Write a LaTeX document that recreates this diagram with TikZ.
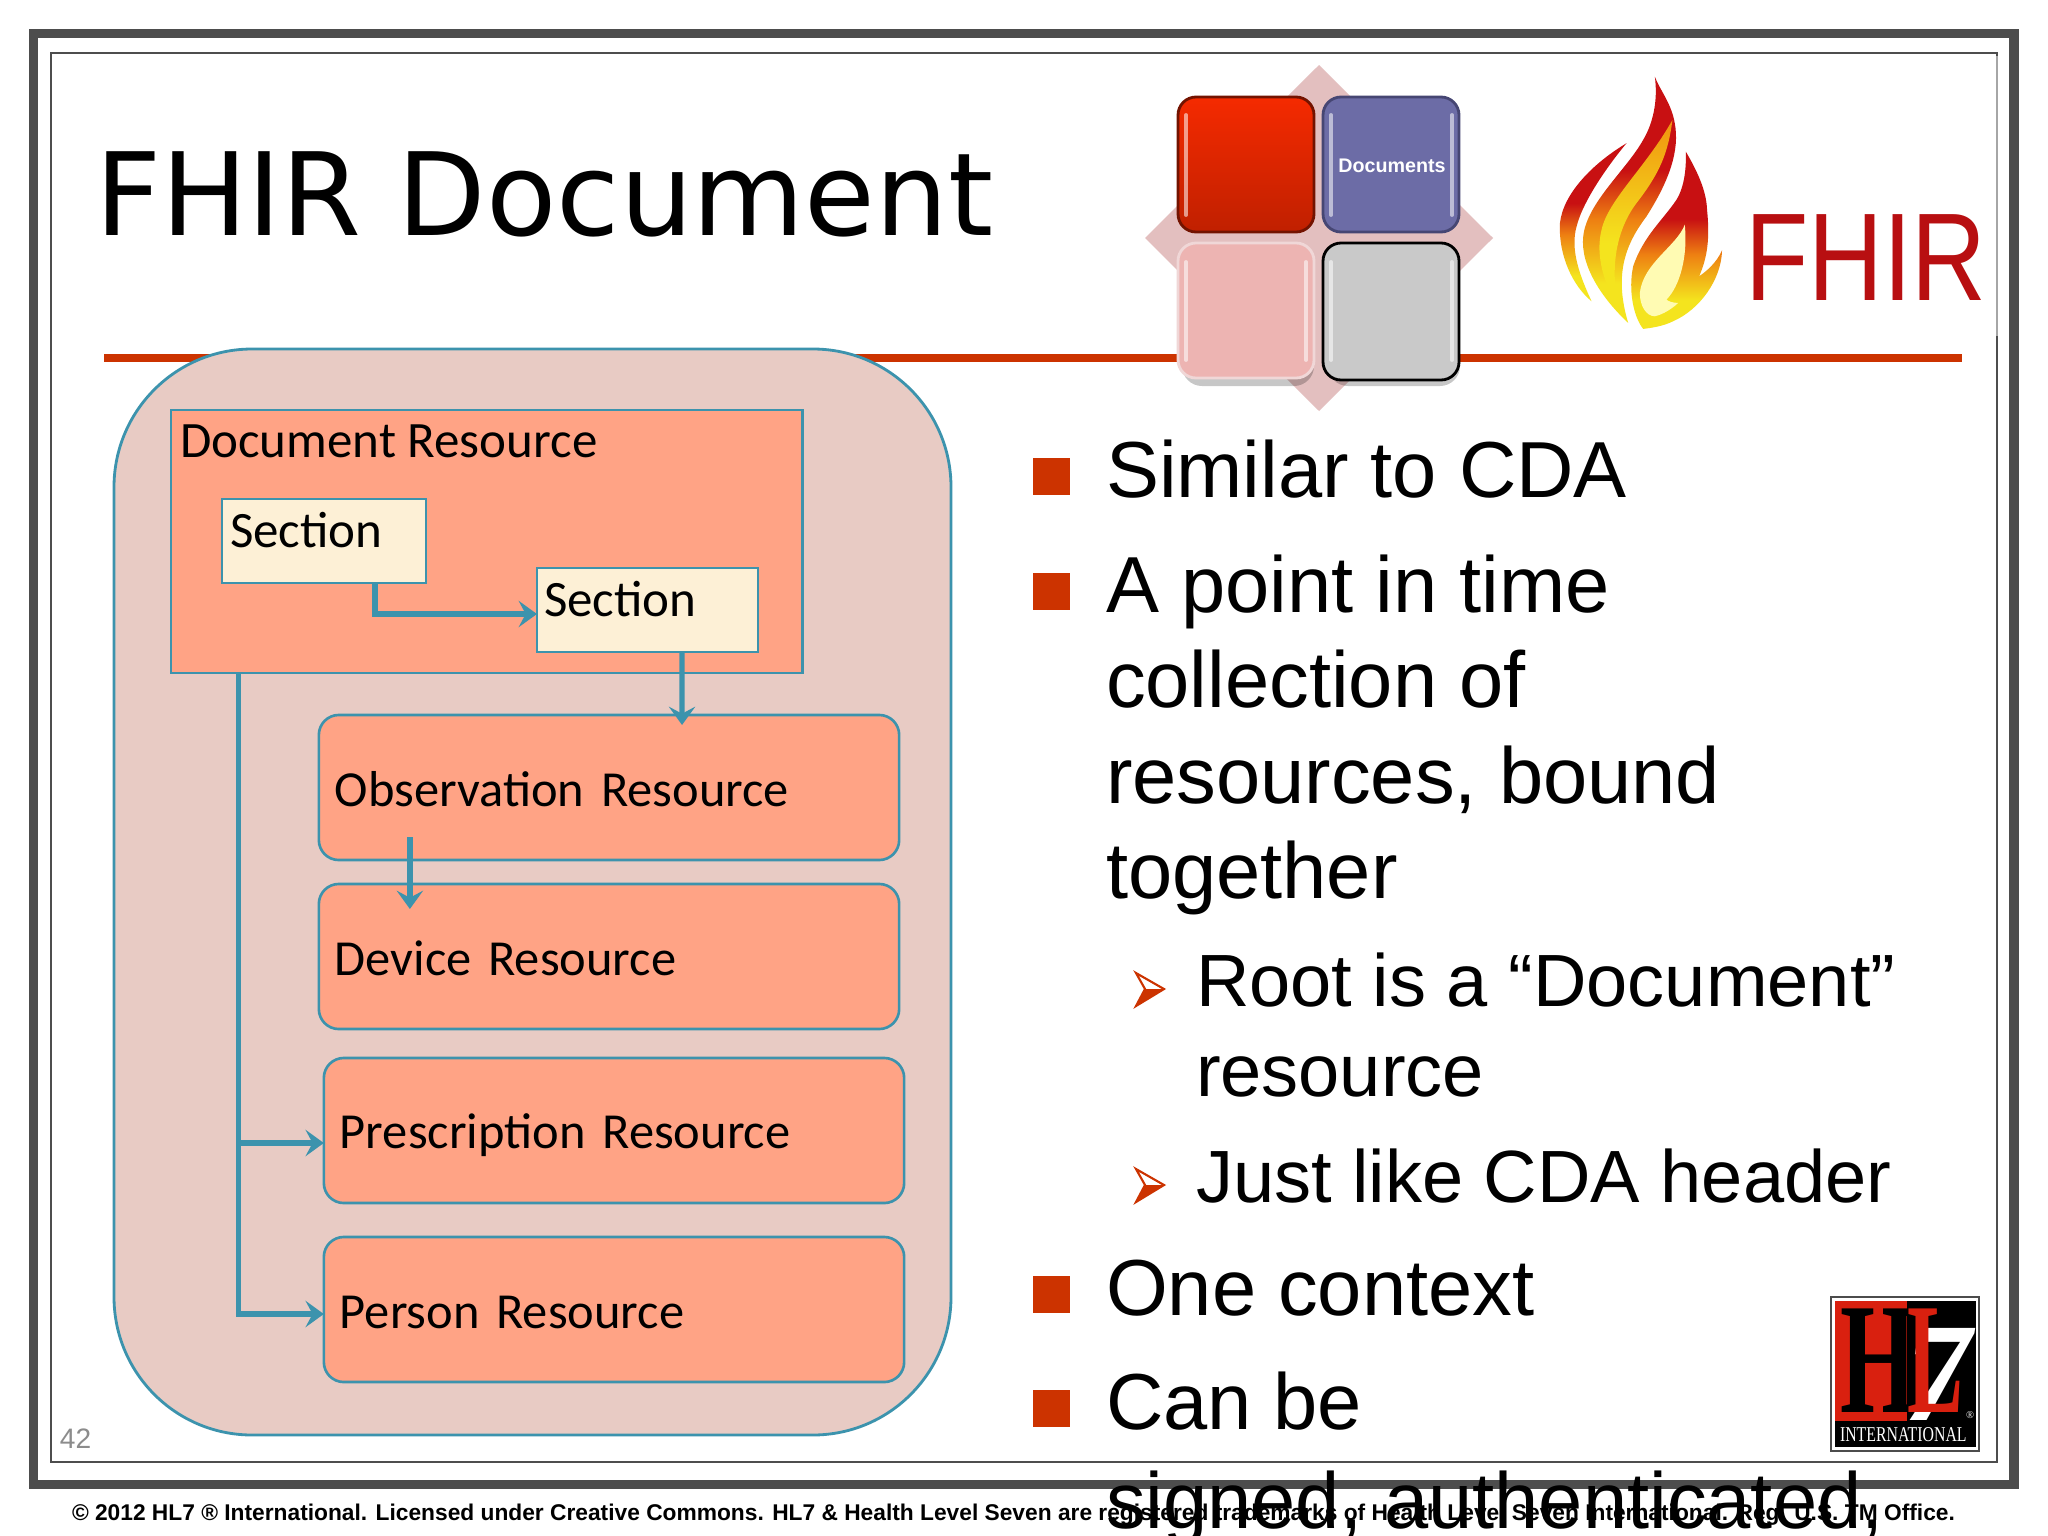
\documentclass[tikz,border=0pt]{standalone}
\usepackage{fontspec}
\setmainfont{Liberation Sans}
\newfontfamily\carlitofont{Carlito}
\newfontfamily\dejafont{DejaVu Sans}
\newfontfamily\lserif{Liberation Serif}
\usetikzlibrary{arrows.meta,calc}
\definecolor{rulered}{HTML}{CC3300}
\definecolor{teal}{HTML}{3C93AD}
\definecolor{frame}{HTML}{4D4D4D}
\definecolor{blob}{HTML}{E8CBC4}
\definecolor{salmon}{HTML}{FFA385}
\definecolor{cream}{HTML}{FDF0D6}
\definecolor{diamondc}{HTML}{E3BFBF}
\definecolor{flamered}{HTML}{C81012}
\definecolor{flameor}{HTML}{EE8012}
\definecolor{flameye}{HTML}{F4E41E}
\definecolor{hlred}{HTML}{D9200F}
\definecolor{gemredtop}{HTML}{F52A00}
\definecolor{gemredbot}{HTML}{C02000}
\definecolor{gemblue}{HTML}{6C6CA6}
\definecolor{gemblueline}{HTML}{464673}
\definecolor{gempink}{HTML}{EDB4B2}
\definecolor{gempinkline}{HTML}{F0D7D7}
\definecolor{gemgray}{HTML}{C9C9C9}
\pgfdeclareverticalshading{flameshade}{100bp}{color(0bp)=(flameye); color(33bp)=(flameye); color(46bp)=(flameor); color(56bp)=(flamered); color(100bp)=(flamered)}
\pgfdeclareverticalshading{innershade}{100bp}{color(0bp)=(flameye); color(42bp)=(flameye); color(75bp)=(flameor!85!yellow); color(100bp)=(flameor)}
\newcommand{\lowertext}[2]{\raisebox{-#1}[\height][\depth]{#2}}
\tikzset{
  txt/.style={inner sep=0pt,outer sep=0pt,anchor=base west},
  body/.style={txt,font=\fontsize{22.6pt}{28pt}\selectfont},
  sub/.style={txt,font=\fontsize{21.05pt}{26pt}\selectfont},
  cal/.style={txt,font=\carlitofont\fontsize{14.5pt}{17pt}\selectfont},
  rbox/.style={draw=teal,fill=salmon,line width=0.75pt,rounded corners=0.2cm,minimum width=5.8cm,minimum height=1.45cm,inner xsep=0.16cm,inner ysep=0pt,outer sep=0pt,text width=5.48cm,align=left,font=\carlitofont\fontsize{14.35pt}{17pt}\selectfont},
  sqbox/.style={draw=teal,line width=0.75pt,inner sep=0pt,outer sep=0pt},
  conn/.style={draw=teal,line width=1.5pt,-{Stealth[length=5.2pt,width=7.5pt,inset=2pt]}},
  sqbullet/.style={fill=rulered},
  gem/.style={rounded corners=0.18cm,line width=0.8pt},
  gloss/.style={white,line width=1.1pt,opacity=0.55,line cap=round},
}
\newcommand{\arrowbullet}[1]{%
  \begin{scope}[shift={(0,#1)}]
    \fill[white] (1136,973) -- (1164,989) -- (1145,989) -- cycle;
    \draw[rulered,line width=0.6pt,line join=miter] (1136,973) -- (1164,989) -- (1136,1006) -- (1145,989) -- cycle;
    \fill[rulered] (1145,989) -- (1164,989) -- (1136,1006) -- cycle;
  \end{scope}}
\begin{document}
\begin{tikzpicture}[x=0.01cm,y=-0.01cm]
\useasboundingbox (0,0) rectangle (2048,1536);
\fill[white] (0,0) rectangle (2048,1536);
% frames
\draw[frame,line width=2.7pt] (33.5,33.5) rectangle (2014,1484.5);
\draw[frame,line width=0.8pt] (51,53) rectangle (1997,1462);
% logo background softens the frame edge
\fill[white] (1540,56) rectangle (1999,336);
\draw[black!35,line width=0.3pt] (1997,56) -- (1997,336);
% rule
\fill[rulered] (104,354) rectangle (1962,362);
% title
\node[txt,font=\dejafont\fontsize{32.7pt}{38pt}\selectfont] (title) at (95,235) {FHIR Document};
% gem
\fill[diamondc] (1319,65) -- (1493,238) -- (1319,411) -- (1145,238) -- cycle;
\fill[black,opacity=0.22,rounded corners=0.2cm] (1182,250) rectangle (1314,386);
\fill[black,opacity=0.22,rounded corners=0.2cm] (1328,250) rectangle (1460,386);
\shade[gem,draw=gemredbot!60!black,top color=gemredtop,bottom color=gemredbot] (1178,97) rectangle (1314,232);
\filldraw[fill=gemblue,draw=gemblueline,gem] (1323,97) rectangle (1459,232);
\filldraw[fill=gempink,draw=gempinkline,gem] (1178,243) rectangle (1314,378);
\filldraw[fill=gemgray,draw=black,gem] (1323,243) rectangle (1459,380);
\draw[gloss] (1186,115) -- (1186,215) (1331,115) -- (1331,215) (1452,115) -- (1452,215)
  (1186,262) -- (1186,360) (1306,262) -- (1306,360) (1331,262) -- (1331,360) (1452,262) -- (1452,360);
\node[font=\bfseries\fontsize{5.6pt}{7pt}\selectfont,text=white,inner sep=0pt] (gemtext) at (1392,166) {Documents};
% flame
\begin{scope}[shift={(1530,60)},x=0.00333cm,y=-0.00333cm]
  \shade[shading=flameshade]
    (290,250) .. controls (190,310) and (100,400) .. (90,490) .. controls (85,590) and (130,680) .. (185,725)
    .. controls (150,650) and (120,570) .. (140,500) .. controls (160,420) and (240,310) .. (290,250) -- cycle;
  \shade[shading=flameshade]
    (375,50) .. controls (390,90) and (425,130) .. (435,190) .. controls (450,270) and (420,360) .. (350,470)
    .. controls (290,550) and (250,640) .. (295,790) .. controls (220,720) and (150,620) .. (160,530)
    .. controls (170,430) and (290,330) .. (340,240) .. controls (370,190) and (385,120) .. (375,50) -- cycle;
  \shade[shading=innershade]
    (428,180) .. controls (415,280) and (390,340) .. (320,430) .. controls (260,510) and (240,620) .. (265,740)
    .. controls (225,680) and (195,590) .. (215,510) .. controls (235,420) and (350,320) .. (428,180) -- cycle;
  \shade[shading=flameshade]
    (468,275) .. controls (500,330) and (530,390) .. (532,450) .. controls (540,530) and (535,590) .. (508,650)
    .. controls (530,635) and (560,610) .. (577,572) .. controls (575,660) and (510,750) .. (430,785)
    .. controls (400,800) and (365,805) .. (340,808) .. controls (310,770) and (295,690) .. (310,620)
    .. controls (340,530) and (400,480) .. (440,420) .. controls (465,380) and (470,320) .. (468,275) -- cycle;
  \fill[yellow!30!white]
    (465,495) .. controls (440,560) and (340,610) .. (330,700) .. controls (330,740) and (350,770) .. (375,770)
    .. controls (400,765) and (430,745) .. (445,730) .. controls (430,730) and (415,725) .. (410,720)
    .. controls (450,680) and (475,590) .. (465,495) -- cycle;
\end{scope}
\node[txt,text=flamered!92!black,font=\fontsize{35.5pt}{40pt}\selectfont,xscale=0.83] (fhir) at (1745,300) {FHIR};
% big rounded container
\draw[draw=teal,fill=blob,line width=0.8pt,rounded corners=1.38cm] (114,349) rectangle (951,1435);
% boxes
\node[sqbox,fill=salmon,minimum width=6.31cm,minimum height=2.63cm] (doc) at (486.5,541.5) {};
\node[cal] (doclabel) at (180,457.5) {Document Resource};
\node[sqbox,fill=cream,minimum width=2.04cm,minimum height=0.84cm] (sec1) at (324,541) {};
\node[cal] (sec1label) at (230,547) {Section};
\node[sqbox,fill=cream,minimum width=2.21cm,minimum height=0.84cm] (sec2) at (647.5,610) {};
\node[cal] (sec2label) at (544,616) {Section};
\node[rbox] (obs) at (609,787.5) {\lowertext{0.015cm}{Observation Resource}};
\node[rbox] (dev) at (609,956.5) {\lowertext{0.015cm}{Device Resource}};
\node[rbox] (pres) at (614,1130.5) {\lowertext{0.05cm}{Prescription Resource}};
\node[rbox] (pers) at (614,1309.5) {\lowertext{0.025cm}{Person Resource}};
% connectors
\draw[conn] ([xshift=0.51cm]sec1.south) |- ([yshift=-0.04cm]sec2.west);
\draw[conn] ([xshift=0.345cm]sec2.south) -- ([xshift=0.73cm,yshift=-0.1cm]obs.north);
\draw[conn] ([xshift=-1.99cm,yshift=0.23cm]obs.south) -- ([xshift=-1.99cm,yshift=-0.25cm]dev.north);
\draw[conn] ([xshift=-2.475cm]doc.south) |- ([yshift=-0.125cm]pres.west);
\draw[conn] ([xshift=-2.475cm]doc.south) |- ([yshift=-0.045cm]pers.west);
% page number
\node[txt,text=black!45,font=\fontsize{8pt}{10pt}\selectfont] (pageno) at (60,1448) {42};
% HL7 logo
\draw[black!70,fill=white,line width=0.4pt] (1831,1297) rectangle (1979,1451);
\fill[black] (1835,1301) rectangle (1976,1447);
\fill[hlred] (1835,1301) rectangle (1907,1421);
\node[txt,text=white,font=\lserif\bfseries\itshape\fontsize{40pt}{44pt}\selectfont,xscale=0.95] (seven) at (1904,1420) {7};
\node[txt,text=black,font=\lserif\bfseries\fontsize{45pt}{50pt}\selectfont,xscale=0.62] (hh) at (1840,1412) {H};
\node[txt,text=hlred,font=\lserif\bfseries\fontsize{45pt}{50pt}\selectfont,xscale=0.53] (ll) at (1907,1412) {L};
\node[txt,text=white,font=\lserif\fontsize{3pt}{4pt}\selectfont] (regm) at (1966,1418) {®};
\node[txt,text=white,font=\lserif\fontsize{6pt}{7pt}\selectfont,xscale=0.75] (intl) at (1840,1441) {INTERNATIONAL};
% bullets
\fill[sqbullet] (1033,458) rectangle (1070,495);
\fill[sqbullet] (1033,573) rectangle (1070,610);
\fill[sqbullet] (1033,1276) rectangle (1070,1313);
\fill[sqbullet] (1033,1390) rectangle (1070,1427);
\arrowbullet{0}
\arrowbullet{196}
% footer
\node[txt,font=\bfseries\fontsize{6.47pt}{8pt}\selectfont] (footer) at (72,1520) {© 2012 HL7 ® International. Licensed under Creative Commons. HL7 \& Health Level Seven are registered trademarks of Health Level Seven International. Reg. U.S. TM Office.};
% body text
\node[body] (b1) at (1106,497.5) {Similar to CDA};
\node[body] (b2a) at (1106,612.5) {A point in time};
\node[body] (b2b) at (1106,707.5) {collection of};
\node[body] (b2c) at (1106,803.5) {resources, bound};
\node[body] (b2d) at (1106,898.5) {together};
\node[sub] (s1a) at (1196,1006.5) {Root is a “Document”};
\node[sub] (s1b) at (1196,1096.5) {resource};
\node[sub] (s2) at (1196,1202.5) {Just like CDA header};
\node[body] (b3) at (1106,1315) {One context};
\node[body] (b4) at (1106,1429) {Can be};
\node[body] (b5) at (1106,1528) {signed, authenticated,};
\end{tikzpicture}
\end{document}
